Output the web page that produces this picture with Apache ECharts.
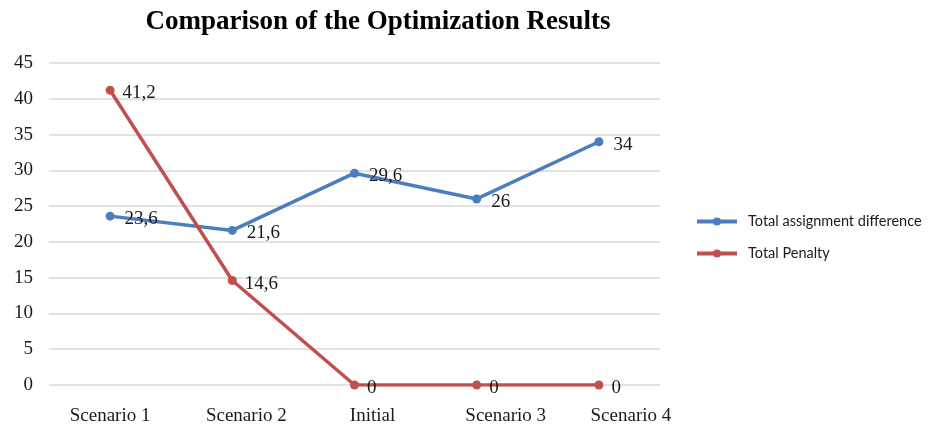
<!DOCTYPE html>
<html>
<head>
<meta charset="utf-8">
<script src="https://cdn.jsdelivr.net/npm/echarts@6/dist/echarts.min.js"></script>
<style>html,body{margin:0;padding:0;background:#fff}#c{width:933px;height:432px}</style>
</head>
<body>
<div id="c"></div>
<script>
const categories = ['Scenario 1', 'Scenario 2', 'Initial', 'Scenario 3', 'Scenario 4'];
const assignmentDiff = [23.6, 21.6, 29.6, 26, 34];
const totalPenalty = [41.2, 14.6, 0, 0, 0];
const yTicks = { min: 0, max: 45, interval: 5 };
const labelShift = [0, 14, 18, 29, 32];

const serif = '"Liberation Serif", "Times New Roman", serif';
const rich = {};
labelShift.forEach((s, i) => {
  rich['c' + i] = { fontFamily: serif, fontSize: 19, color: '#1a1a1a', padding: [0, 0, 0, 2 * s] };
});
const fmt = p => String(p.value).replace('.', ',');

const chart = echarts.init(document.getElementById('c'));
chart.setOption({
  backgroundColor: '#fff',
  animation: false,
  title: {
    text: 'Comparison of the Optimization Results',
    left: 373, textAlign: 'center', top: 4,
    textStyle: { fontFamily: serif, fontSize: 27, fontWeight: 'bold', color: '#000' }
  },
  legend: {
    orient: 'vertical', left: 690, top: 209, itemGap: 17,
    itemWidth: 40, itemHeight: 10,
    lineStyle: { width: 4 },
    textStyle: { fontFamily: 'Lato, "Noto Sans", sans-serif', fontSize: 14.5, color: '#1a1a1a', padding: [0, 0, 0, 6] },
    data: ['Total assignment difference', 'Total Penalty']
  },
  grid: { left: 49, right: 273, top: 63, bottom: 47 },
  xAxis: {
    type: 'category', data: categories, boundaryGap: true,
    axisLine: { show: false }, axisTick: { show: false },
    axisLabel: {
      margin: 22, interval: 0,
      formatter: (v, i) => '{c' + i + '|' + v + '}',
      rich: rich
    }
  },
  yAxis: {
    type: 'value', min: yTicks.min, max: yTicks.max, interval: yTicks.interval,
    axisLine: { show: false }, axisTick: { show: false },
    axisLabel: { margin: 16, fontFamily: serif, fontSize: 19, color: '#1a1a1a' },
    splitLine: { lineStyle: { color: '#d9d9d9', width: 1.5 } }
  },
  series: [
    {
      name: 'Total assignment difference', type: 'line', data: assignmentDiff,
      symbol: 'circle', symbolSize: 9,
      lineStyle: { color: '#4a7ebf', width: 3.5 },
      itemStyle: { color: '#4a7ebf' },
      label: { show: true, position: 'right', distance: 10, offset: [0, 3], formatter: fmt,
        fontFamily: serif, fontSize: 19, color: '#1a1a1a' }
    },
    {
      name: 'Total Penalty', type: 'line', data: totalPenalty,
      symbol: 'circle', symbolSize: 9,
      lineStyle: { color: '#c0504d', width: 3.5 },
      itemStyle: { color: '#c0504d' },
      label: { show: true, position: 'right', distance: 8, offset: [0, 3], formatter: fmt,
        fontFamily: serif, fontSize: 19, color: '#1a1a1a' }
    }
  ]
});
</script>
</body>
</html>
